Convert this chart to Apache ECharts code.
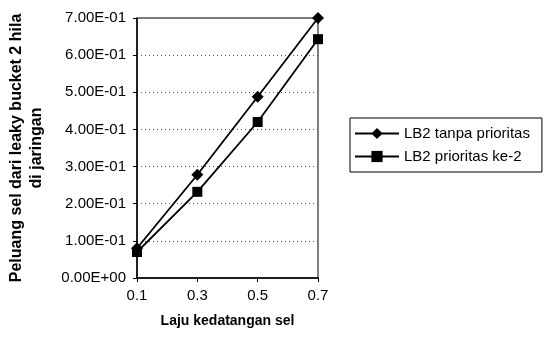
<!DOCTYPE html>
<html><head><meta charset="utf-8">
<script src="https://cdn.jsdelivr.net/npm/echarts@6/dist/echarts.min.js"></script>
<style>html,body{margin:0;padding:0;background:#fff}#c{width:544px;height:344px}</style>
</head><body><div id="c"></div>
<script>
const categories = ['0.1', '0.3', '0.5', '0.7'];
const seriesNames = ['LB2 tanpa prioritas', 'LB2 prioritas ke-2'];
const tanpaPrioritas = [0.08, 0.278, 0.488, 0.70];
const prioritasKe2 = [0.07, 0.232, 0.42, 0.643];
const xTitle = 'Laju kedatangan sel';
const yTitle = 'Peluang sel dari leaky bucket 2 hila\ndi jaringan';

function fmt(v) {
  if (v === 0) return '0.00E+00';
  let e = Math.floor(Math.log10(Math.abs(v)) + 1e-9);
  let m = v / Math.pow(10, e);
  let s = e < 0 ? '-' : '+';
  let ae = Math.abs(e);
  return m.toFixed(2) + 'E' + s + (ae < 10 ? '0' + ae : ae);
}

const chart = echarts.init(document.getElementById('c'));
const font = 'Liberation Sans, Arial, sans-serif';
chart.setOption({
  animation: false,
  textStyle: { fontFamily: font },
  grid: { left: 137, right: 226, top: 18, bottom: 66, show: true, borderColor: '#000', borderWidth: 1 },
  xAxis: {
    type: 'category', data: categories, boundaryGap: false,
    name: xTitle, nameLocation: 'middle', nameGap: 36,
    nameTextStyle: { fontWeight: 'bold', fontSize: 14, color: '#000', fontFamily: font },
    axisLine: { lineStyle: { color: '#000', width: 1.5 } },
    axisTick: { show: true, length: 4, lineStyle: { color: '#000' } },
    axisLabel: { color: '#000', fontSize: 15, margin: 10, fontFamily: font },
    splitLine: { show: false }
  },
  yAxis: {
    type: 'value', min: 0, max: 0.7, interval: 0.1,
    name: yTitle, nameLocation: 'middle', nameGap: 90, nameRotate: 90,
    nameTextStyle: { fontWeight: 'bold', fontSize: 16, color: '#000', fontFamily: font, lineHeight: 20 },
    axisLine: { show: true, lineStyle: { color: '#000', width: 1.5 } },
    axisTick: { show: true, length: 4, lineStyle: { color: '#000' } },
    axisLabel: { color: '#000', fontSize: 15, margin: 11, formatter: fmt, fontFamily: font },
    splitLine: { show: true, lineStyle: { color: '#555', type: [1, 3], width: 1 } }
  },
  legend: {
    orient: 'vertical', left: 350, top: 118,
    borderColor: '#000', borderWidth: 1, padding: [8, 12, 8, 4],
    itemWidth: 44, itemHeight: 14, itemGap: 8,
    textStyle: { color: '#000', fontSize: 15, fontFamily: font },
    data: seriesNames
  },
  series: [
    { name: seriesNames[0], type: 'line', data: tanpaPrioritas, symbol: 'diamond', symbolSize: 12,
      lineStyle: { color: '#000', width: 1.8 }, itemStyle: { color: '#000' } },
    { name: seriesNames[1], type: 'line', data: prioritasKe2, symbol: 'rect', symbolSize: 10,
      lineStyle: { color: '#000', width: 1.8 }, itemStyle: { color: '#000' } }
  ]
});
</script></body></html>
